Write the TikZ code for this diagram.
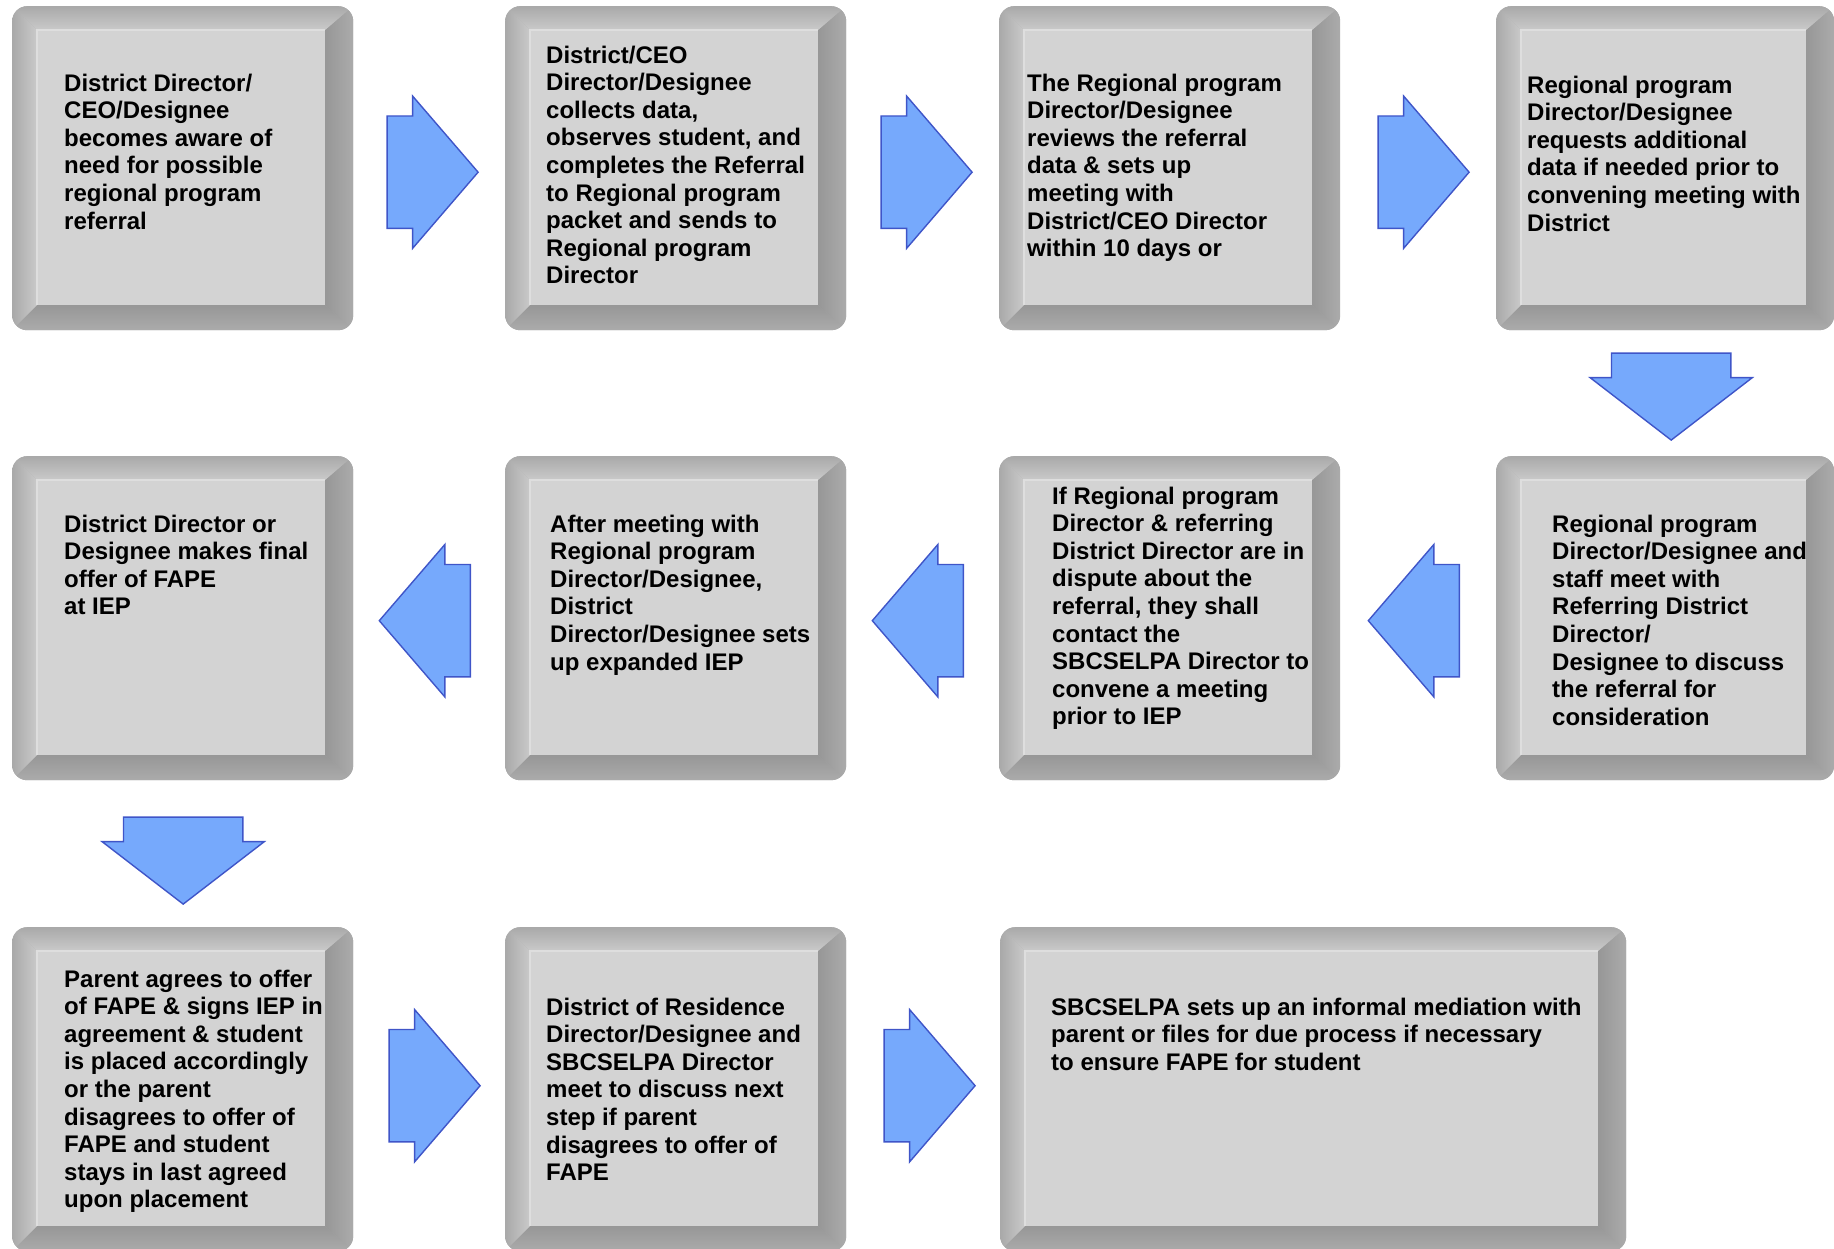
\documentclass[tikz,border=0pt]{standalone}
\usepackage{fontspec}
\setmainfont{Liberation Sans}
\usepackage{tikz}
\usetikzlibrary{calc,positioning,shapes.arrows}
\definecolor{face}{HTML}{D3D3D3}
\definecolor{faceedge}{HTML}{DEDEDE}
\definecolor{rimout}{HTML}{A9A9A9}
\definecolor{rimin}{HTML}{CACACA}
\definecolor{rimdark}{HTML}{979797}
\definecolor{rimlow}{HTML}{ABABAB}
\definecolor{flowfill}{HTML}{76A9FC}
\definecolor{flowline}{HTML}{3F55C8}
\tikzset{card/.style={rectangle,anchor=north west,rounded corners=15pt,minimum width=341pt,minimum height=324pt,inner sep=0pt,fill=rimout,path picture={
  \path (path picture bounding box.north west) coordinate (nw) (path picture bounding box.north east) coordinate (ne) (path picture bounding box.south west) coordinate (sw) (path picture bounding box.south east) coordinate (se);
  \path ([shift={(25pt,-24pt)}]nw) coordinate (inw) ([shift={(-28pt,-24pt)}]ne) coordinate (ine) ([shift={(25pt,25pt)}]sw) coordinate (isw) ([shift={(-28pt,25pt)}]se) coordinate (ise);
  \shade[sharp corners,top color=rimout,bottom color=rimin] (nw)--(ne)--(ine)--(inw)--cycle;
  \shade[sharp corners,left color=rimout,right color=rimin] (nw)--(inw)--(isw)--(sw)--cycle;
  \shade[sharp corners,left color=rimdark,right color=rimlow] (ne)--(ine)--(ise)--(se)--cycle;
  \shade[sharp corners,top color=rimdark,bottom color=rimlow] (sw)--(isw)--(ise)--(se)--cycle;
  \fill[sharp corners,face] (inw) rectangle (ise);
  \draw[sharp corners,faceedge,line width=1.5pt] (isw)--(inw)--(ine);}},
 txt/.style={anchor=north west,align=left,inner sep=0pt,font=\fontsize{24}{27.6}\selectfont\bfseries},
 blk/.style={single arrow,anchor=tail,draw=flowline,fill=flowfill,line width=1.4pt,inner xsep=0pt,inner ysep=55.5pt,minimum height=91pt,minimum width=151pt,single arrow head extend=20pt,single arrow tip angle=98.6},
 rblk/.style={blk},lblk/.style={blk,shape border rotate=180},
 dblk/.style={blk,shape border rotate=270,inner xsep=59pt,inner ysep=0pt,minimum height=87pt,minimum width=161pt,single arrow head extend=21.5pt,single arrow tip angle=104.8}}
\begin{document}
\begin{tikzpicture}[x=1pt,y=-1pt]
\useasboundingbox (0,0) rectangle (1834,1249);
% boxes
\node[card] (s1) at (12,6) {}; \node[card] (s2) at (505,6) {}; \node[card] (s3) at (999,6) {}; \node[card,minimum width=338pt] (s4) at (1496,6) {};
\node[card,minimum width=338pt] (s5) at (1496,456) {}; \node[card] (s6) at (999,456) {}; \node[card] (s7) at (505,456) {}; \node[card] (s8) at (12,456) {};
\node[card] (s9) at (12,927) {}; \node[card] (s10) at (505,927) {}; \node[card,minimum width=626pt] (s11) at (1000,927) {};
% texts
\node[txt] (t1) at (64,73.5) {District Director/\\CEO/Designee\\becomes aware of\\need for possible\\regional program\\referral};
\node[txt] (t2) at (546,45.5) {District/CEO\\Director/Designee\\collects data,\\observes student, and\\completes the Referral\\to Regional program\\packet and sends to\\Regional program\\Director};
\node[txt] (t3) at (1027,73.5) {The Regional program\\Director/Designee\\reviews the referral\\data \& sets up\\meeting with\\District/CEO Director\\within 10 days or};
\node[txt] (t4) at (1527,75.5) {Regional program\\Director/Designee\\requests additional\\data if needed prior to\\convening meeting with\\District};
\node[txt] (t5) at (1552,514.5) {Regional program\\Director/Designee and\\staff meet with\\Referring District\\Director/\\Designee to discuss\\the referral for\\consideration};
\node[txt] (t6) at (1052,486.5) {If Regional program\\Director \& referring\\District Director are in\\dispute about the\\referral, they shall\\contact the\\SBCSELPA Director to\\convene a meeting\\prior to IEP};
\node[txt] (t7) at (550,514.5) {After meeting with\\Regional program\\Director/Designee,\\District\\Director/Designee sets\\up expanded IEP};
\node[txt] (t8) at (64,514.5) {District Director or\\Designee makes final\\offer of FAPE\\at IEP};
\node[txt] (t9) at (64,969.5) {Parent agrees to offer\\of FAPE \& signs IEP in\\agreement \& student\\is placed accordingly\\or the parent\\disagrees to offer of\\FAPE and student\\stays in last agreed\\upon placement};
\node[txt] (t10) at (546,997.5) {District of Residence\\Director/Designee and\\SBCSELPA Director\\meet to discuss next\\step if parent\\disagrees to offer of\\FAPE};
\node[txt] (t11) at (1051,997.5) {SBCSELPA sets up an informal mediation with\\parent or files for due process if necessary\\to ensure FAPE for student};
% arrows
\node[rblk] (a1) at ($(s1.east)+(33,4)$) {}; \node[rblk] (a2) at ($(s2.east)+(34,4)$) {}; \node[rblk] (a3) at ($(s3.east)+(37,4)$) {};
\node[dblk] (a4) at ($(s4.south)+(6,22)$) {};
\node[lblk] (a5) at ($(s5.west)+(-36,2.5)$) {}; \node[lblk] (a6) at ($(s6.west)+(-35,2.5)$) {}; \node[lblk] (a7) at ($(s7.west)+(-34,2.5)$) {};
\node[dblk] (a8) at ($(s8.south)+(0.5,36)$) {};
\node[rblk] (a9) at ($(s9.east)+(35,-3.5)$) {}; \node[rblk] (a10) at ($(s10.east)+(37,-3.5)$) {};
\end{tikzpicture}
\end{document}
